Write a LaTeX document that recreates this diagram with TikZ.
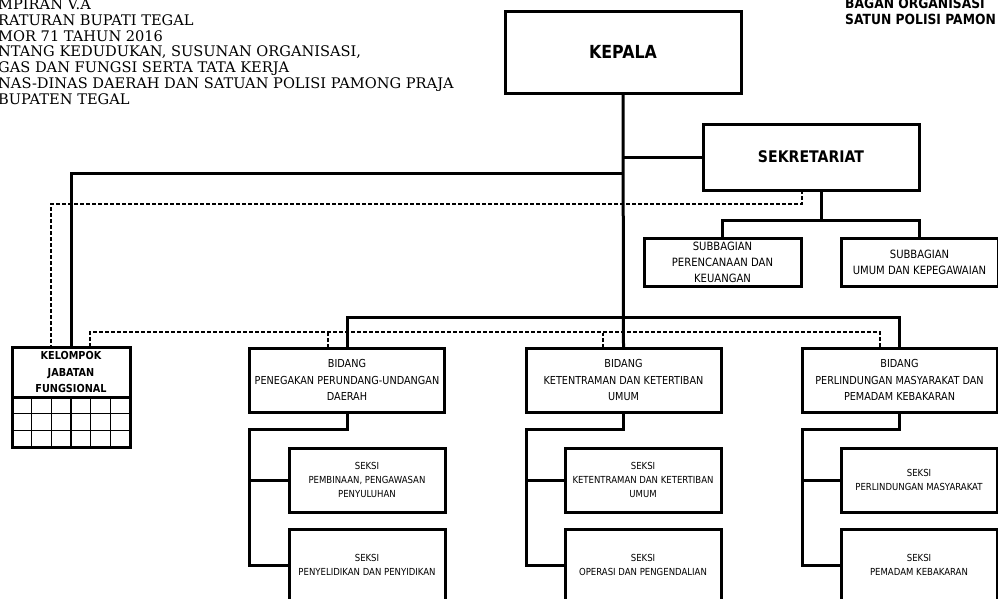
\documentclass[tikz,border=0pt]{standalone}
\usepackage{fontspec}
\setmainfont{DejaVu Serif}
\newfontfamily\boxfont[FakeStretch=0.88]{DejaVu Sans}
\usetikzlibrary{calc}
\tikzset{
  unit/.style={draw, line width=3pt, inner sep=0pt, outer sep=0pt, align=center},
  headbox/.style={unit, font=\boxfont\bfseries\fontsize{#1}{#1}\selectfont},
  subbox/.style={unit, minimum width=157pt, minimum height=48pt, font=\boxfont\fontsize{11.4}{16}\selectfont},
  bidangbox/.style={unit, minimum width=195pt, minimum height=64pt, font=\boxfont\fontsize{11}{16.3}\selectfont},
  seksibox/.style={unit, minimum width=156pt, minimum height=64pt, font=\boxfont\fontsize{9.7}{14.3}\selectfont},
  link/.style={line width=3pt},
  staff/.style={line width=1.4pt, dash pattern=on 4pt off 2pt},
}
\begin{document}
\begin{tikzpicture}[x=1pt, y=-1pt]
        \useasboundingbox (0,0) rectangle (998,598);

        % Titles
        \node[anchor=north west, inner sep=0pt, align=left, font=\fontsize{14.6}{15.9}\selectfont] (lampiran) at (-2,-1.6)
          {MPIRAN V.A\\RATURAN BUPATI TEGAL\\MOR 71 TAHUN 2016\\NTANG KEDUDUKAN, SUSUNAN ORGANISASI,\\GAS DAN FUNGSI SERTA TATA KERJA\\NAS-DINAS DAERAH DAN SATUAN POLISI PAMONG PRAJA\\BUPATEN TEGAL};
        \node[anchor=north west, inner sep=0pt, align=left, font=\boxfont\bfseries\fontsize{14}{16}\selectfont] (bagan) at (845,-2)
          {BAGAN ORGANISASI\\SATUN POLISI PAMON};

        % Boxes
        \node[headbox=18, minimum width=236pt, minimum height=82pt] (kepala) at (623,52) {KEPALA};
        \node[headbox=16, minimum width=216pt, minimum height=66pt] (sekretariat) at (811,157) {SEKRETARIAT};
        \node[subbox] (sbrenc) at (722.5,262) {SUBBAGIAN\\PERENCANAAN DAN\\KEUANGAN};
        \node[subbox] (sbumum) at (919.5,262) {SUBBAGIAN\\UMUM DAN KEPEGAWAIAN};

        \node[bidangbox] (bpenegak) at (347,380) {BIDANG\\PENEGAKAN PERUNDANG-UNDANGAN\\DAERAH};
        \node[bidangbox] (btrantib) at (623.5,380) {BIDANG\\KETENTRAMAN DAN KETERTIBAN\\UMUM};
        \node[bidangbox] (blinmas) at (899.5,380) {BIDANG\\PERLINDUNGAN MASYARAKAT DAN\\PEMADAM KEBAKARAN};

        \node[seksibox] (sbina) at (367,480) {SEKSI\\PEMBINAAN, PENGAWASAN\\PENYULUHAN};
        \node[seksibox, minimum height=72pt] (ssidik) at (367,565) {SEKSI\\PENYELIDIKAN DAN PENYIDIKAN};
        \node[seksibox] (strantib) at (643,480) {SEKSI\\KETENTRAMAN DAN KETERTIBAN\\UMUM};
        \node[seksibox, minimum height=72pt] (sops) at (643,565) {SEKSI\\OPERASI DAN PENGENDALIAN};
        \node[seksibox] (slinmas) at (919,480) {SEKSI\\PERLINDUNGAN MASYARAKAT};
        \node[seksibox, minimum height=72pt] (sdamkar) at (919,565) {SEKSI\\PEMADAM KEBAKARAN};

        % Kelompok jabatan fungsional with its grid
        \node[headbox=11, minimum width=118pt, minimum height=50pt, font=\boxfont\bfseries\fontsize{11}{16.7}\selectfont] (jf) at (71,372) {KELOMPOK\\JABATAN\\FUNGSIONAL};
        \node[unit, minimum width=118pt, minimum height=50pt, anchor=north] (jfgrid) at (jf.south) {};
        \foreach \i in {1,...,5}
          \draw[line width=1.2pt] ($(jfgrid.north west)!\i/6!(jfgrid.north east)$) -- ($(jfgrid.south west)!\i/6!(jfgrid.south east)$);
        \foreach \j in {1,2}
          \draw[line width=1.2pt] ($(jfgrid.north west)!\j/3!(jfgrid.south west)$) -- ($(jfgrid.north east)!\j/3!(jfgrid.south east)$);

        % Lines of command
        \draw[link] (kepala.south) -- (btrantib.north);
        \draw[link] (kepala.south |- sekretariat.west) -- (sekretariat.west);
        \draw[link] (kepala.south |- 0,173) -| (jf.north);
        \draw[link] ([xshift=10pt]sekretariat.south) -- ++(0,29);
        \draw[link] (sbrenc.north) |- (sbumum.north |- 0,220) -- (sbumum.north);
        \draw[link] (bpenegak.north) -- ++(0,-31) -| (blinmas.north);
        \foreach \b/\s/\t in {bpenegak/sbina/ssidik, btrantib/strantib/sops, blinmas/slinmas/sdamkar} {
          \draw[link] (\b.south) -- ++(0,17) -| (\b.south west |- \t.west) -- (\t.west);
          \draw[link] (\b.south west |- \s.west) -- (\s.west);
        }

        % Lines of coordination (dashed)
        \draw[staff] ([xshift=-9pt]sekretariat.south) -- ++(0,14) -| ([xshift=39pt]jf.north west);
        \draw[staff] ([xshift=78pt]jf.north west) -- ++(0,-15) -| ([xshift=-19.5pt]blinmas.north);
        \draw[staff] ([xshift=-19pt]bpenegak.north) -- ++(0,-15);
        \draw[staff] ([xshift=-20.5pt]btrantib.north) -- ++(0,-15);
\end{tikzpicture}
\end{document}
